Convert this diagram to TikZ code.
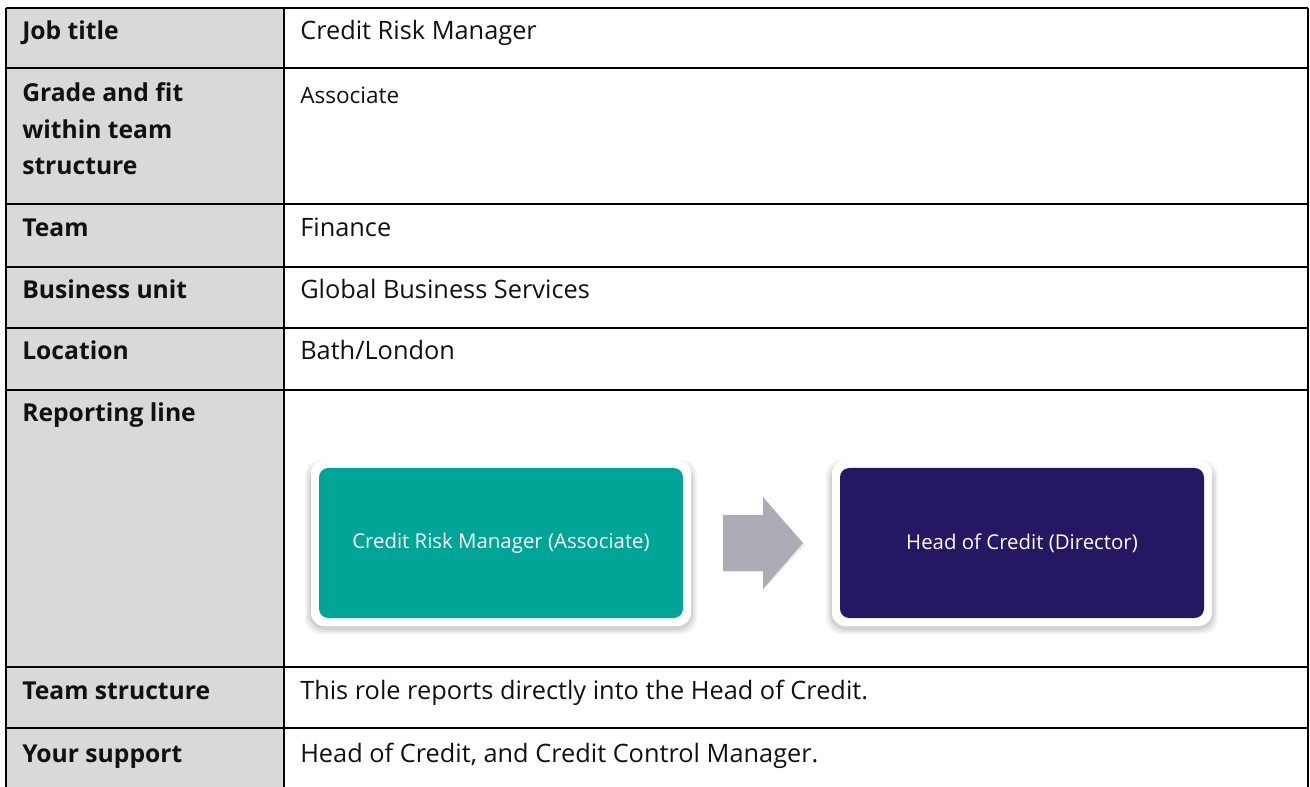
\documentclass[tikz,border=0pt]{standalone}
\usepackage{fontspec}
\setmainfont{Open Sans}
\definecolor{cellgrey}{HTML}{D9D9D9}
\definecolor{tealbox}{HTML}{00A598}
\definecolor{navybox}{HTML}{251761}
\definecolor{arrowgrey}{HTML}{ADABB6}
\definecolor{txt}{HTML}{111111}
\begin{document}
\begin{tikzpicture}[x=0.75pt,y=-0.75pt,
  gridline/.style={line width=2.1pt, black},
  lab/.style={anchor=base west, inner sep=0, text=txt, font=\bfseries\fontsize{18.5}{27.4}\selectfont, align=left},
  val/.style={anchor=base west, inner sep=0, text=txt, font=\fontsize{19}{27}\selectfont},
  smallval/.style={anchor=base west, inner sep=0, text=txt, font=\fontsize{16.9}{20}\selectfont},
  frame/.style={fill=white, rounded corners=10pt},
  boxtext/.style={text=white, font=\fontsize{15.3}{18}\selectfont}
]
\useasboundingbox (0,0) rectangle (1310,787);
% grey label column
\fill[cellgrey] (6,8) rectangle (284,790);
% grid
\foreach \yy in {8,68,204,267,328,390,667,728}
  \draw[gridline] (6,\yy) -- (1308,\yy);
\foreach \xx in {6,284,1308}
  \draw[gridline] (\xx,8) -- (\xx,790);
% labels
\node[lab] (l1) at (22,40) {Job title};
\node[lab] (l2) at (22,175) {Grade and fit\\within team\\structure};
\node[lab] (l3) at (22,237) {Team};
\node[lab] (l4) at (22,299) {Business unit};
\node[lab] (l5) at (22,360) {Location};
\node[lab] (l6) at (22,422) {Reporting line};
\node[lab] (l7) at (22,699) {Team structure};
\node[lab] (l8) at (22,762) {Your support};
% values
\node[val] (v1) at (300,40) {Credit Risk Manager};
\node[smallval] (v2) at (300,104) {Associate};
\node[val] (v3) at (300,237) {Finance};
\node[val] (v4) at (300,299) {Global Business Services};
\node[val] (v5) at (300,360) {Bath/London};
\node[val] (v7) at (300,699) {This role reports directly into the Head of Credit.};
\node[val] (v8) at (300,762) {Head of Credit, and Credit Control Manager.};
% shadows of the frames
\foreach \o/\s in {0.05/6,0.06/4,0.08/2}{
  \fill[black, opacity=\o, rounded corners=12pt] (311-\s,462-\s+4) rectangle (691+\s,626+\s+2);
  \fill[black, opacity=\o, rounded corners=12pt] (832-\s,462-\s+4) rectangle (1212+\s,626+\s+2);
}
% frames
\fill[frame] (311,460) rectangle (691,626);
\fill[frame] (832,460) rectangle (1212,626);
% boxes
\node[boxtext, fill=tealbox, rounded corners=7pt, minimum width=364*0.75pt, minimum height=150*0.75pt] (crm) at (501,543) {Credit Risk Manager (Associate)};
\node[boxtext, fill=navybox, rounded corners=7pt, minimum width=364*0.75pt, minimum height=150*0.75pt] (hoc) at (1022,543) {Head of Credit (Director)};
% block arrow
\fill[black, opacity=0.08] (723,518) -- (763,518) -- (763,500) -- (805,545) -- (763,590) -- (763,572) -- (723,572) -- cycle;
\fill[arrowgrey] (723,515) -- (763,515) -- (763,497) -- (803,543) -- (763,589) -- (763,571) -- (723,571) -- cycle;
\end{tikzpicture}
\end{document}
